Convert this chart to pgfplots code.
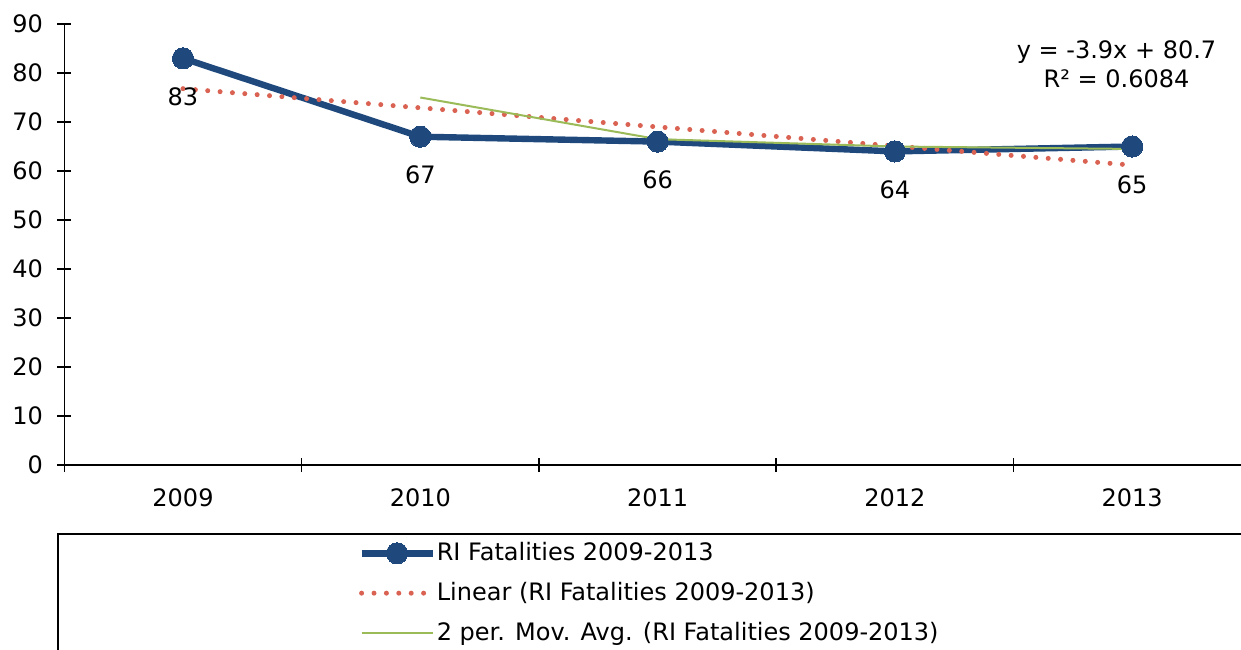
\documentclass[border=0pt]{standalone}
\usepackage{fontspec}
\setmainfont{DejaVu Sans}
\usepackage{pgfplots}
\pgfplotsset{compat=1.18}
\definecolor{fatblue}{RGB}{31,73,125}
\definecolor{trendred}{RGB}{217,98,82}
\definecolor{avggreen}{RGB}{155,187,89}
\begin{document}
\fontsize{12}{14.5}\selectfont
\begin{tikzpicture}
\begin{axis}[
  scale only axis, width=593.25pt, height=220.5pt,
  xmin=-0.5, xmax=4.5, ymin=0, ymax=90,
  axis lines=left, axis line style={-, line width=0.8pt},
  xtick={0,1,2,3,4}, xticklabels={2009,2010,2011,2012,2013},
  major x tick style={draw=none},
  minor xtick={-0.5,0.5,1.5,2.5,3.5,4.5},
  ytick={0,10,...,90},
  tick align=center, major tick length=7pt, minor tick length=7pt,
  tick style={black, line width=0.8pt},
  /pgf/number format/assume math mode=true,
  font=\fontsize{12}{14.5}\selectfont,
  yticklabel style={xshift=-3pt},
  xticklabel style={yshift=-4pt},
  legend style={at={(0.2475,-0.1746)}, anchor=north west, draw=none, fill=none,
    inner sep=0pt, row sep=9pt, column sep=0.5pt, nodes={inner sep=0pt},
    font=\fontsize{12}{14.5}\selectfont},
  legend cell align=left,
  legend image code/.code={\draw[mark repeat=2,mark phase=2,#1] plot coordinates {(0pt,0pt) (17.75pt,0pt) (35.5pt,0pt)};},
]
\addplot[fatblue, line width=3.2pt, mark=*, mark size=5.3pt,
  mark options={solid, fill=fatblue, draw=fatblue, line width=0pt},
  nodes near coords,
  nodes near coords style={anchor=center, yshift=-19pt, text=black, font=\fontsize{12}{14.5}\selectfont}]
  coordinates {(0,83) (1,67) (2,66) (3,64) (4,65)};
\addlegendentry{RI Fatalities 2009-2013}
\addplot[trendred, line width=2.5pt, line cap=round, dash pattern=on 0pt off 6.2pt]
  coordinates {(0,76.8) (1,72.9) (2,69.0) (3,65.1) (4,61.2)};
\addlegendentry{Linear (RI Fatalities 2009-2013)}
\addplot[avggreen, line width=1pt]
  coordinates {(1,75) (2,66.5) (3,65) (4,64.5)};
\addlegendentry{2 per. Mov. Avg. (RI Fatalities 2009-2013)}
\node[align=center, font=\fontsize{12}{14.5}\selectfont] at (axis cs:3.934,81.7) {y = -3.9x + 80.7\\R² = 0.6084};
\end{axis}
\draw[line width=0.8pt] (-3.175pt,-34.5pt) rectangle (640pt,-140pt);
\pgfresetboundingbox
\path[use as bounding box] (-32.175pt,-92pt) rectangle (588.325pt,232.5pt);
\end{tikzpicture}
\end{document}
